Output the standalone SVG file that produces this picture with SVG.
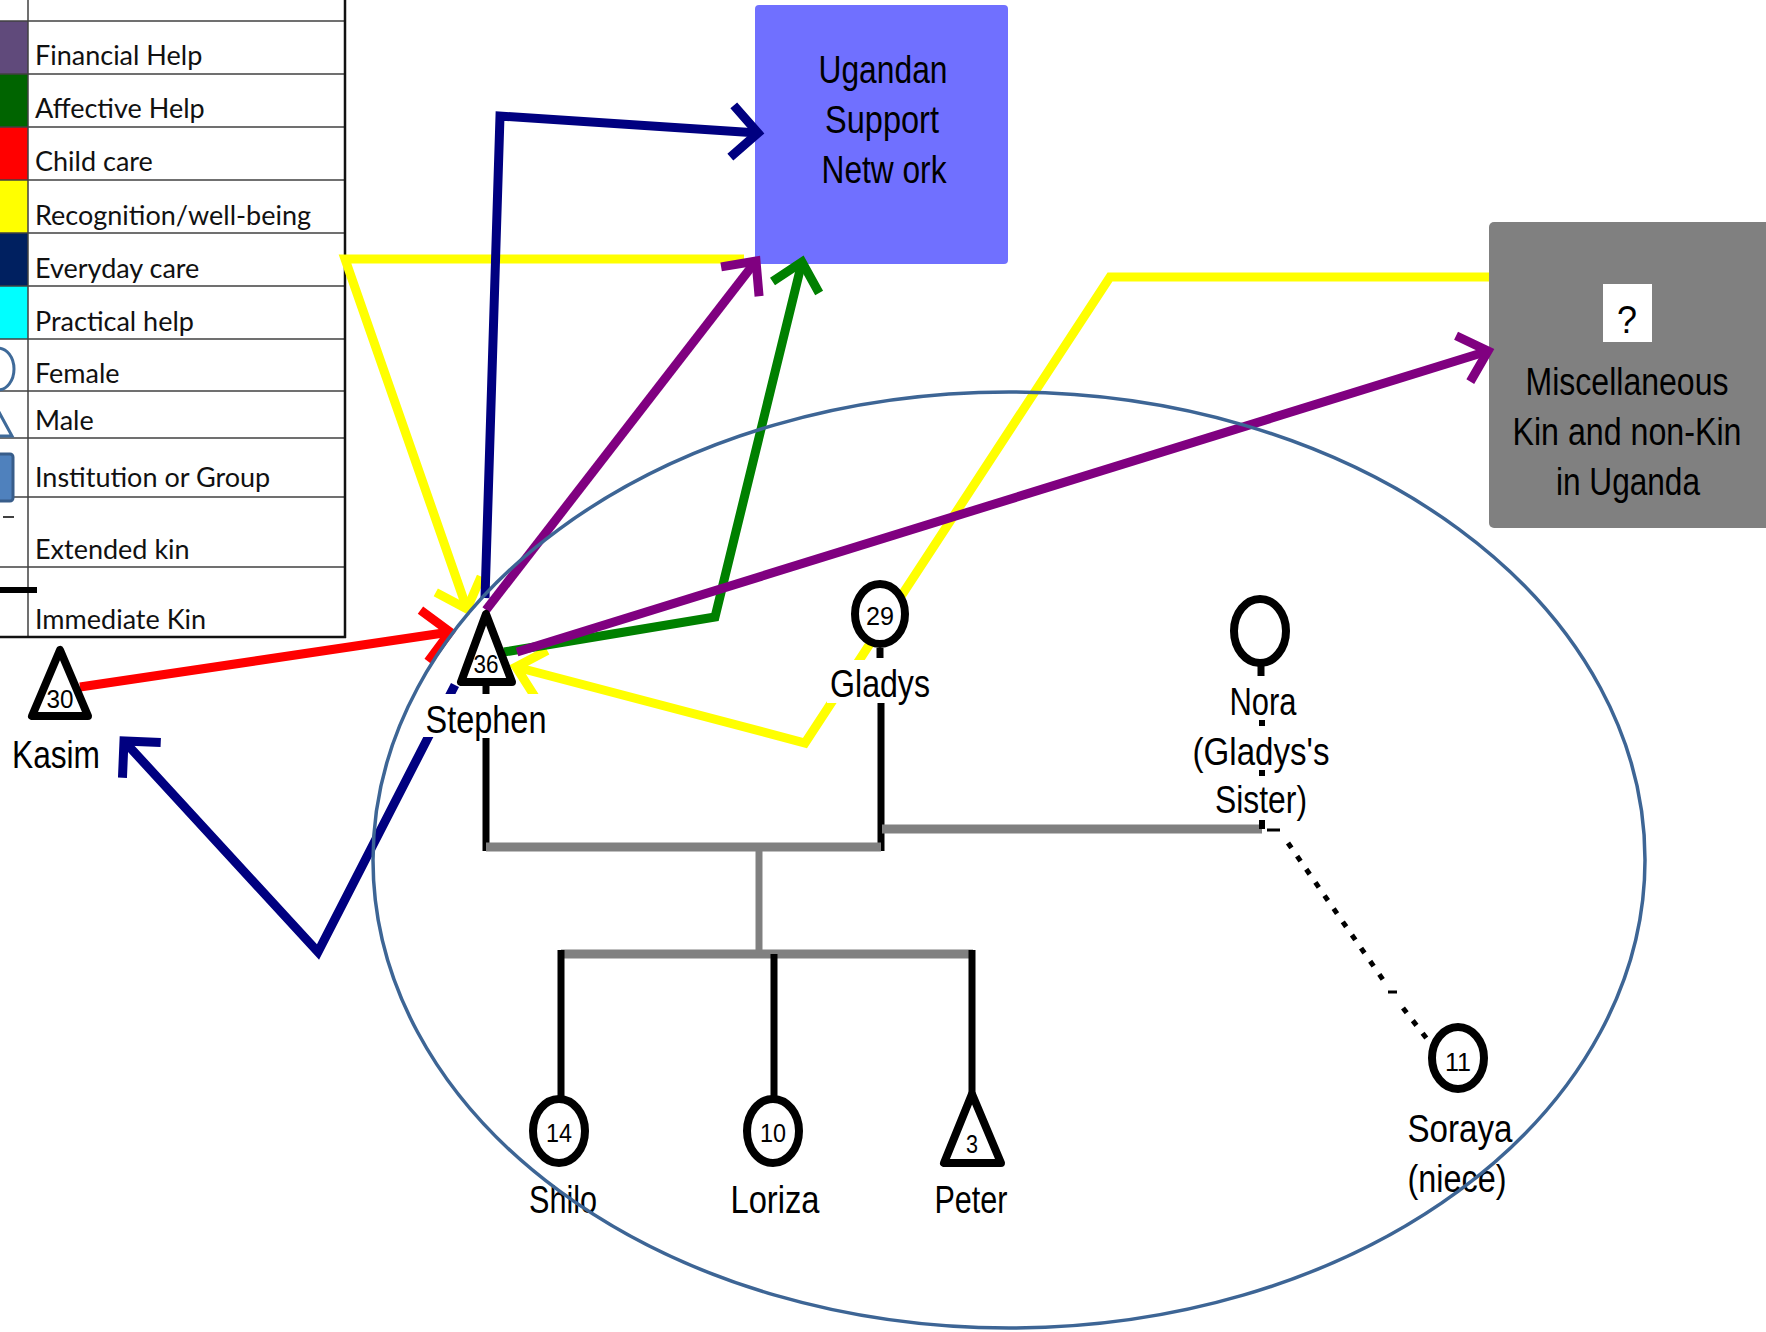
<svg xmlns="http://www.w3.org/2000/svg" width="1766" height="1332" viewBox="0 0 1766 1332">
<style>
.lg{font-family:Lato,"Open Sans","Liberation Sans",sans-serif;font-size:27px;fill:#111}
.lbl{font-family:"Liberation Sans",Arial,sans-serif;font-size:38px;fill:#000;text-anchor:middle}
.num{font-family:"Liberation Sans",Arial,sans-serif;font-size:25px;fill:#000;text-anchor:middle}
.grid{stroke:#404040;stroke-width:1.5}
.kin{stroke:#000;stroke-width:7;fill:none}
.bar{stroke:#808080;stroke-width:9;fill:none}
.sym{fill:#fff;stroke:#000;stroke-width:8;stroke-linejoin:round}
.c{fill:none;stroke-width:9;stroke-linejoin:miter}
.bg{fill:#fff}
</style>
<defs>
<marker id="aY" markerUnits="userSpaceOnUse" markerWidth="80" markerHeight="80" refX="0" refY="0" orient="auto" overflow="visible" viewBox="-40 -40 80 80"><path d="M-26,-24 L0,0 L-26,24" fill="none" stroke="#FFFF00" stroke-width="9"/></marker>
<marker id="aN" markerUnits="userSpaceOnUse" markerWidth="80" markerHeight="80" refX="0" refY="0" orient="auto" overflow="visible" viewBox="-40 -40 80 80"><path d="M-26,-26 L0,0 L-26,26" fill="none" stroke="#000080" stroke-width="9"/></marker>
<marker id="aP" markerUnits="userSpaceOnUse" markerWidth="80" markerHeight="80" refX="0" refY="0" orient="auto" overflow="visible" viewBox="-40 -40 80 80"><path d="M-26,-24 L0,0 L-26,24" fill="none" stroke="#800080" stroke-width="9"/></marker>
<marker id="aG" markerUnits="userSpaceOnUse" markerWidth="80" markerHeight="80" refX="0" refY="0" orient="auto" overflow="visible" viewBox="-40 -40 80 80"><path d="M-26,-24 L0,0 L-26,24" fill="none" stroke="#008000" stroke-width="9"/></marker>
<marker id="aR" markerUnits="userSpaceOnUse" markerWidth="80" markerHeight="80" refX="0" refY="0" orient="auto" overflow="visible" viewBox="-40 -40 80 80"><path d="M-26,-26 L0,0 L-26,26" fill="none" stroke="#FF0000" stroke-width="9"/></marker>
</defs>
<rect x="0" y="0" width="1766" height="1332" fill="#fff"/>

<g id="legend">
<rect x="0" y="21" width="28" height="53" fill="#604A7B"/>
<rect x="0" y="74" width="28" height="53" fill="#006400"/>
<rect x="0" y="127" width="28" height="53" fill="#FF0000"/>
<rect x="0" y="180" width="28" height="53" fill="#FFFF00"/>
<rect x="0" y="233" width="28" height="53" fill="#002060"/>
<rect x="0" y="286" width="28" height="53" fill="#00FFFF"/>
<line class="grid" x1="0" y1="21" x2="345" y2="21"/>
<line class="grid" x1="0" y1="74" x2="345" y2="74"/>
<line class="grid" x1="0" y1="127" x2="345" y2="127"/>
<line class="grid" x1="0" y1="180" x2="345" y2="180"/>
<line class="grid" x1="0" y1="233" x2="345" y2="233"/>
<line class="grid" x1="0" y1="286" x2="345" y2="286"/>
<line class="grid" x1="0" y1="339" x2="345" y2="339"/>
<line class="grid" x1="0" y1="391" x2="345" y2="391"/>
<line class="grid" x1="0" y1="438" x2="345" y2="438"/>
<line class="grid" x1="0" y1="497" x2="345" y2="497"/>
<line class="grid" x1="0" y1="567" x2="345" y2="567"/>
<line class="grid" x1="28" y1="0" x2="28" y2="637"/>
<line x1="345" y1="0" x2="345" y2="638" stroke="#111" stroke-width="2.5"/>
<line x1="0" y1="637" x2="346" y2="637" stroke="#111" stroke-width="2.5"/>
<ellipse cx="-2" cy="369" rx="16" ry="21" fill="none" stroke="#3F6A99" stroke-width="3"/>
<path d="M-12,392 L12,436 L-20,436" fill="none" stroke="#3F6A99" stroke-width="3"/>
<rect x="-20" y="454" width="33" height="47" rx="3" fill="#4F81BD" stroke="#385D8A" stroke-width="3"/>
<line x1="3" y1="517" x2="14" y2="517" stroke="#000" stroke-width="1.5"/>
<line x1="0" y1="590" x2="37" y2="590" stroke="#000" stroke-width="6"/>
<text class="lg" x="35" y="65">Financial Help</text>
<text class="lg" x="35" y="118">Affective Help</text>
<text class="lg" x="35" y="171">Child care</text>
<text class="lg" x="35" y="225">Recognition/well-being</text>
<text class="lg" x="35" y="278">Everyday care</text>
<text class="lg" x="35" y="331">Practical help</text>
<text class="lg" x="35" y="383">Female</text>
<text class="lg" x="35" y="430">Male</text>
<text class="lg" x="35" y="487">Institution or Group</text>
<text class="lg" x="35" y="559">Extended kin</text>
<text class="lg" x="35" y="629">Immediate Kin</text>
</g>

<g id="ugandan-network">
<rect x="755" y="5" width="253" height="259" rx="4" fill="#7070FF"/>
<text class="lbl" x="883" y="83" textLength="129" lengthAdjust="spacingAndGlyphs">Ugandan</text>
<text class="lbl" x="882" y="133" textLength="114" lengthAdjust="spacingAndGlyphs">Support</text>
<text class="lbl" x="884" y="183" textLength="125" lengthAdjust="spacingAndGlyphs">Netw ork</text>
</g>

<g id="misc-uganda">
<rect x="1489" y="222" width="290" height="306" rx="5" fill="#808080"/>
<rect x="1603" y="284" width="49" height="58" fill="#fff"/>
<text class="lbl" x="1627" y="333" textLength="20" lengthAdjust="spacingAndGlyphs">?</text>
<text class="lbl" x="1627" y="395" textLength="203" lengthAdjust="spacingAndGlyphs">Miscellaneous</text>
<text class="lbl" x="1627" y="445" textLength="229" lengthAdjust="spacingAndGlyphs">Kin and non-Kin</text>
<text class="lbl" x="1628" y="495" textLength="144" lengthAdjust="spacingAndGlyphs">in Uganda</text>
</g>

<g id="connectors">
<path class="c" stroke="#FFFF00" d="M744,259 L345,259 L467,609" marker-end="url(#aY)"/>
<path class="c" stroke="#FFFF00" d="M1489,277 L1110,277 L805,743 L516,667" marker-end="url(#aY)"/>
<path class="c" stroke="#000080" d="M485,598 L500,116 L758,133" marker-end="url(#aN)"/>
<path class="c" stroke="#000080" d="M455,685 L318,952 L124,741" marker-end="url(#aN)"/>
<path class="c" stroke="#FF0000" d="M80,687 L450,632" marker-end="url(#aR)"/>
<path class="c" stroke="#800080" d="M486,610 L756,261" marker-end="url(#aP)"/>
<path class="c" stroke="#008000" d="M504,652 L715,617 L802,262" marker-end="url(#aG)"/>
<path class="c" stroke="#800080" d="M517,652 L1488,351" marker-end="url(#aP)"/>
<path class="kin" d="M486,738 V851"/>
<path class="kin" d="M881,702 V851"/>
<path class="bar" d="M486,847 H881"/>
<path class="bar" d="M882,829 H1262"/>
<path d="M759,847 V954" stroke="#808080" stroke-width="7"/>
<path class="bar" d="M561,954 H973"/>
<path class="kin" d="M561,950 V1099"/>
<path class="kin" d="M774,954 V1099"/>
<path class="kin" d="M972,950 V1094"/>
<path d="M1262,720 V726 M1262,770 V776 M1262,820 V829" stroke="#000" stroke-width="6"/>
<path d="M1288,843 L1386,984 M1403,1008 L1434,1048" stroke="#000" stroke-width="5" stroke-dasharray="6 10" fill="none"/>
<path d="M1267,830 H1280 M1388,992 H1397" stroke="#000" stroke-width="3" fill="none"/>
</g>

<g id="kasim">
<path class="sym" d="M60,650 L32,716 L88,716 Z"/>
<text class="num" x="60" y="708" textLength="27" lengthAdjust="spacingAndGlyphs">30</text>
<text class="lbl" x="56" y="768" textLength="88" lengthAdjust="spacingAndGlyphs">Kasim</text>
</g>

<g id="stephen">
<path class="sym" d="M486,614 L461,682 L512,682 Z"/>
<line x1="486" y1="686" x2="486" y2="694" stroke="#000" stroke-width="7"/>
<text class="num" x="486" y="673" textLength="25" lengthAdjust="spacingAndGlyphs">36</text>
<rect class="bg" x="423" y="694" width="126" height="43"/>
<text class="lbl" x="486" y="733" textLength="121" lengthAdjust="spacingAndGlyphs">Stephen</text>
</g>

<g id="gladys">
<ellipse class="sym" cx="880" cy="614" rx="25" ry="30"/>
<line x1="880" y1="648" x2="880" y2="658" stroke="#000" stroke-width="7"/>
<text class="num" x="880" y="625" textLength="28" lengthAdjust="spacingAndGlyphs">29</text>
<rect class="bg" x="827" y="660" width="106" height="43"/>
<text class="lbl" x="880" y="697" textLength="100" lengthAdjust="spacingAndGlyphs">Gladys</text>
</g>

<g id="nora">
<ellipse class="sym" cx="1260" cy="631" rx="26" ry="32"/>
<line x1="1261" y1="666" x2="1261" y2="676" stroke="#000" stroke-width="7"/>
<text class="lbl" x="1263" y="715" textLength="67" lengthAdjust="spacingAndGlyphs">Nora</text>
<text class="lbl" x="1261" y="765" textLength="137" lengthAdjust="spacingAndGlyphs">(Gladys's</text>
<text class="lbl" x="1261" y="813" textLength="92" lengthAdjust="spacingAndGlyphs">Sister)</text>
</g>

<g id="shilo">
<ellipse class="sym" cx="559" cy="1131" rx="26" ry="32"/>
<text class="num" x="559" y="1142" textLength="26" lengthAdjust="spacingAndGlyphs">14</text>
<text class="lbl" x="563" y="1213" textLength="68" lengthAdjust="spacingAndGlyphs">Shilo</text>
</g>

<g id="loriza">
<ellipse class="sym" cx="773" cy="1131" rx="26" ry="32"/>
<text class="num" x="773" y="1142" textLength="26" lengthAdjust="spacingAndGlyphs">10</text>
<text class="lbl" x="775" y="1213" textLength="89" lengthAdjust="spacingAndGlyphs">Loriza</text>
</g>

<g id="peter">
<path class="sym" d="M972,1094 L944,1163 L1001,1163 Z"/>
<text class="num" x="972" y="1153" textLength="12" lengthAdjust="spacingAndGlyphs">3</text>
<text class="lbl" x="971" y="1213" textLength="73" lengthAdjust="spacingAndGlyphs">Peter</text>
</g>

<g id="soraya">
<ellipse class="sym" cx="1458" cy="1058" rx="26" ry="31"/>
<text class="num" x="1458" y="1071" textLength="26" lengthAdjust="spacingAndGlyphs">11</text>
<text class="lbl" x="1460" y="1142" textLength="105" lengthAdjust="spacingAndGlyphs">Soraya</text>
<text class="lbl" x="1457" y="1192" textLength="99" lengthAdjust="spacingAndGlyphs">(niece)</text>
</g>

<g id="household">
<ellipse cx="1009" cy="860" rx="636" ry="468" fill="none" stroke="#3D6595" stroke-width="3.5"/>
</g>
</svg>
